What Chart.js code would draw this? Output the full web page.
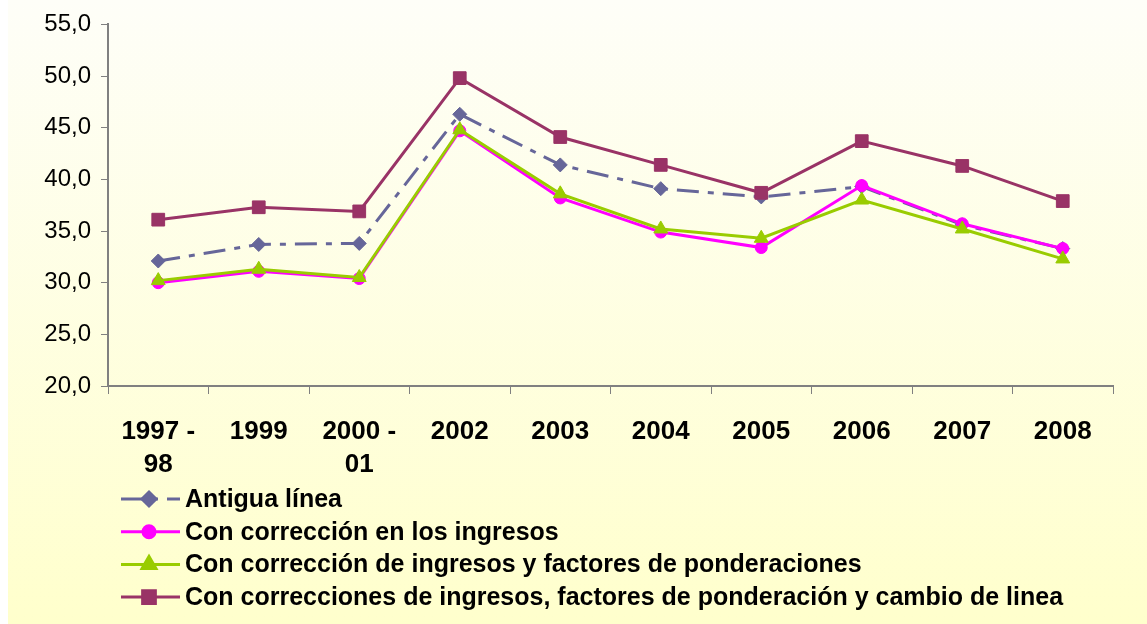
<!DOCTYPE html>
<html>
<head>
<meta charset="utf-8">
<script src="https://cdn.jsdelivr.net/npm/chart.js@4/dist/chart.umd.min.js"></script>
<style>
 html, body { margin: 0; padding: 0; background: #fff; }
 #wrap { width: 1147px; height: 624px; }
</style>
</head>
<body>
<div id="wrap"><canvas id="lineChart" width="1147" height="624"></canvas></div>
<script>
var years = [["1997 -", "98"], "1999", ["2000 -", "01"], "2002", "2003", "2004", "2005", "2006", "2007", "2008"];

var antiguaLinea = [32.1, 33.7, 33.8, 46.3, 41.4, 39.1, 38.3, 39.3, 35.6, 33.3];
var correccionIngresos = [30.0, 31.1, 30.4, 44.7, 38.2, 34.9, 33.4, 39.4, 35.7, 33.3];
var correccionFactores = [30.2, 31.3, 30.5, 44.8, 38.6, 35.2, 34.3, 38.0, 35.2, 32.3];
var correccionCambioLinea = [36.1, 37.3, 36.9, 49.8, 44.1, 41.4, 38.7, 43.7, 41.3, 37.9];

var seriesLabels = [
 "Antigua línea",
 "Con corrección en los ingresos",
 "Con corrección de ingresos y factores de ponderaciones",
 "Con correcciones de ingresos, factores de ponderación y cambio de linea",
];

var dashPattern = [22, 9, 6, 9];

// background: white strip on the left, pale yellow gradient box
var backgroundPlugin = {
 id: "background",
 beforeDraw: function (chart) {
  var ctx = chart.ctx;
  ctx.save();
  ctx.fillStyle = "#ffffff";
  ctx.fillRect(0, 0, chart.width, chart.height);
  var grad = ctx.createLinearGradient(0, 0, 0, chart.height);
  grad.addColorStop(0, "#fefef8");
  grad.addColorStop(1, "#ffffcc");
  ctx.fillStyle = grad;
  ctx.fillRect(8, 0, chart.width - 8, chart.height);
  ctx.restore();
 },
};

// legend drawn by hand: line with marker in the middle, one item per row
var legendPlugin = {
 id: "rowLegend",
 afterDraw: function (chart) {
  var ctx = chart.ctx;
  var top = 499;
  var rowH = 32.7;
  ctx.save();
  chart.data.datasets.forEach(function (ds, i) {
   var y = top + i * rowH;
   ctx.strokeStyle = ds.borderColor;
   ctx.lineWidth = 3;
   ctx.setLineDash(ds.borderDash || []);
   ctx.beginPath();
   ctx.moveTo(121, y);
   ctx.lineTo(180, y);
   ctx.stroke();
   ctx.setLineDash([]);
   Chart.helpers.drawPoint(ctx, {
    pointStyle: ds.pointStyle,
    radius: ds.pointRadius,
    borderWidth: 1,
    rotation: 0,
   }, 149, y);
   ctx.fillStyle = ds.pointBackgroundColor;
   ctx.fill();
   ctx.fillStyle = "#000000";
   ctx.font = "bold 25px 'Liberation Sans', Arial, sans-serif";
   ctx.textBaseline = "middle";
   ctx.fillText(ds.label, 185, y + 1);
  });
  ctx.restore();
 },
};

var ctx = document.getElementById("lineChart");

new Chart(ctx, {
 type: "line",
 data: {
  labels: years,
  datasets: [
   {
    label: seriesLabels[0],
    data: antiguaLinea,
    borderColor: "#666699",
    backgroundColor: "#666699",
    pointBackgroundColor: "#666699",
    pointBorderColor: "#666699",
    borderDash: dashPattern,
    pointStyle: "rectRot",
    pointRadius: 7,
    order: 4,
   },
   {
    label: seriesLabels[1],
    data: correccionIngresos,
    borderColor: "#ff00ff",
    backgroundColor: "#ff00ff",
    pointBackgroundColor: "#ff00ff",
    pointBorderColor: "#ff00ff",
    pointStyle: "circle",
    pointRadius: 6,
    order: 3,
   },
   {
    label: seriesLabels[2],
    data: correccionFactores,
    borderColor: "#99cc00",
    backgroundColor: "#99cc00",
    pointBackgroundColor: "#99cc00",
    pointBorderColor: "#99cc00",
    pointStyle: "triangle",
    pointRadius: 8,
    order: 2,
   },
   {
    label: seriesLabels[3],
    data: correccionCambioLinea,
    borderColor: "#993366",
    backgroundColor: "#993366",
    pointBackgroundColor: "#993366",
    pointBorderColor: "#993366",
    pointStyle: "rect",
    pointRadius: 9,
    order: 1,
   },
  ],
 },
 options: {
  responsive: false,
  animation: false,
  events: [],
  layout: {
   padding: { left: 8, right: 34, top: 24, bottom: 0 },
  },
  elements: {
   line: { borderWidth: 3, tension: 0 },
   point: { borderWidth: 1 },
  },
  plugins: {
   legend: { display: false },
   tooltip: { enabled: false },
  },
  scales: {
   x: {
    offset: true,
    grid: {
     offset: true,
     drawOnChartArea: false,
     color: "#808080",
     tickLength: 8,
     tickWidth: 1,
    },
    border: { color: "#808080", width: 2 },
    ticks: {
     color: "#000000",
     padding: 21,
     maxRotation: 0,
     autoSkip: false,
     font: { family: "'Liberation Sans', Arial, sans-serif", size: 26, weight: "bold", lineHeight: 1.27 },
    },
    afterFit: function (scale) {
     scale.height = 238;
    },
   },
   y: {
    min: 20,
    max: 55,
    grid: {
     drawOnChartArea: false,
     color: "#808080",
     tickLength: 7,
     tickWidth: 1,
    },
    border: { color: "#808080", width: 2 },
    ticks: {
     stepSize: 5,
     color: "#000000",
     padding: 10,
     font: { family: "'Liberation Sans', Arial, sans-serif", size: 24 },
     callback: function (value) {
      return value.toFixed(1).replace(".", ",");
     },
    },
    afterFit: function (scale) {
     scale.width = 100;
    },
   },
  },
 },
 plugins: [backgroundPlugin, legendPlugin],
});
</script>
</body>
</html>
